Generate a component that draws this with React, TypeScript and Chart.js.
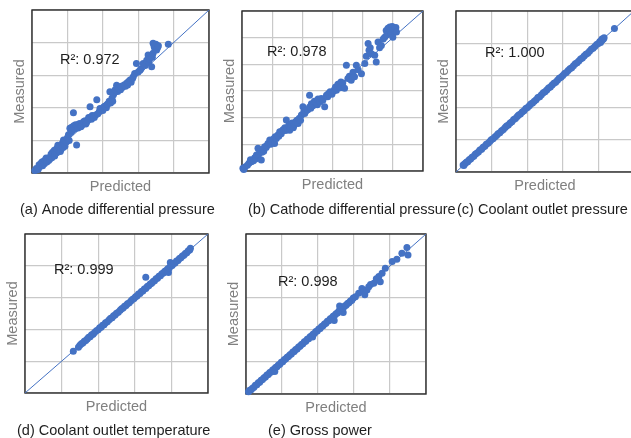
import React, { useEffect, useRef } from "react";
import { Chart, registerables } from "chart.js";

Chart.register(...registerables);

type Pt = [number, number];

// [predicted, measured] in grid units
const anodePoints: Pt[] = [
  [0.08, 0.08], [0.12, 0.14], [0.15, 0.1], [0.18, 0.12], [0.2, 0.25], [0.22, 0.2], [0.26, 0.3],
  [0.3, 0.22], [0.28, 0.34], [0.33, 0.36], [0.35, 0.28], [0.37, 0.4], [0.4, 0.46], [0.42, 0.34],
  [0.45, 0.45], [0.47, 0.38], [0.5, 0.42], [0.52, 0.5], [0.54, 0.58], [0.56, 0.47], [0.6, 0.55],
  [0.58, 0.64], [0.63, 0.7], [0.64, 0.52], [0.66, 0.6], [0.7, 0.62], [0.7, 0.75], [0.73, 0.85],
  [0.75, 0.68], [0.78, 0.8], [0.8, 0.66], [0.82, 0.72], [0.84, 0.84], [0.86, 0.92], [0.88, 0.78],
  [0.9, 0.9], [0.93, 0.82], [0.89, 1.01], [0.97, 0.95], [1.0, 1.08], [1.03, 1.17], [1.05, 1.0],
  [1.07, 1.37], [1.1, 1.25], [1.12, 1.4], [1.14, 1.3], [1.17, 1.85], [1.26, 0.86], [1.18, 1.45],
  [1.2, 1.35], [1.23, 1.48], [1.26, 1.42], [1.3, 1.38], [1.32, 1.5], [1.36, 1.52], [1.38, 1.42],
  [1.4, 1.45], [1.44, 1.5], [1.46, 1.58], [1.5, 1.6], [1.52, 1.5], [1.54, 1.55], [1.58, 1.62],
  [1.6, 1.7], [1.64, 1.68], [1.64, 2.03], [1.68, 1.65], [1.7, 1.76], [1.72, 1.72], [1.76, 1.7],
  [1.8, 1.78], [1.83, 2.25], [1.86, 1.82], [1.9, 1.88], [1.92, 1.98], [1.95, 1.95], [2.0, 1.92],
  [2.02, 2.02], [2.05, 2.05], [2.1, 2.0], [2.12, 2.1], [2.14, 2.12], [2.18, 2.2], [2.2, 2.49],
  [2.22, 2.15], [2.26, 2.3], [2.28, 2.2], [2.3, 2.4], [2.35, 2.55], [2.39, 2.69], [2.42, 2.5],
  [2.44, 2.58], [2.46, 2.6], [2.5, 2.55], [2.52, 2.66], [2.55, 2.62], [2.6, 2.7], [2.64, 2.66],
  [2.67, 2.75], [2.7, 2.7], [2.72, 2.8], [2.77, 2.85], [2.8, 2.78], [2.84, 2.9], [2.86, 2.95],
  [2.9, 3.05], [2.95, 3.36], [3.0, 3.1], [3.05, 3.15], [3.08, 3.2], [3.14, 3.36], [3.2, 3.3],
  [3.24, 3.46], [3.28, 3.62], [3.3, 3.4], [3.32, 3.5], [3.38, 3.26], [3.4, 3.55], [3.42, 3.67],
  [3.42, 3.98], [3.45, 3.88], [3.47, 3.82], [3.5, 3.95], [3.52, 3.77], [3.55, 3.85], [3.57, 3.9],
  [3.85, 3.95],
];

const cathodePoints: Pt[] = [
  [0.03, 0.1], [0.06, 0.06], [0.1, 0.15], [0.18, 0.22], [0.23, 0.29], [0.31, 0.35], [0.28, 0.42],
  [0.38, 0.38], [0.42, 0.5], [0.45, 0.45], [0.48, 0.6], [0.53, 0.85], [0.55, 0.62], [0.59, 0.72],
  [0.64, 0.41], [0.66, 0.7], [0.7, 0.82], [0.72, 0.74], [0.75, 0.91], [0.8, 0.88], [0.83, 0.96],
  [0.86, 1.03], [0.92, 1.16], [0.95, 1.0], [1.0, 1.12], [1.04, 1.2], [1.08, 1.03], [1.1, 1.28],
  [1.14, 1.22], [1.19, 1.35], [1.22, 1.3], [1.25, 1.47], [1.3, 1.4], [1.33, 1.5], [1.36, 1.55],
  [1.42, 1.62], [1.45, 1.52], [1.47, 1.91], [1.5, 1.6], [1.55, 1.72], [1.58, 1.53], [1.6, 1.62],
  [1.62, 1.68], [1.66, 1.8], [1.7, 1.62], [1.72, 1.7], [1.74, 1.75], [1.78, 1.85], [1.82, 1.9],
  [1.86, 1.78], [1.9, 1.98], [1.94, 1.9], [1.97, 2.1], [2.02, 2.41], [2.05, 2.22], [2.08, 2.16],
  [2.12, 2.25], [2.18, 2.3], [2.24, 2.84], [2.24, 2.4], [2.28, 2.35], [2.3, 2.52], [2.35, 2.45],
  [2.4, 2.62], [2.46, 2.55], [2.5, 2.48], [2.52, 2.7], [2.58, 2.6], [2.63, 2.72], [2.68, 2.65],
  [2.74, 2.41], [2.8, 2.84], [2.84, 2.78], [2.86, 2.9], [2.92, 2.97], [2.98, 2.88], [3.04, 3.0],
  [3.08, 3.08], [3.1, 3.15], [3.13, 3.03], [3.18, 3.25], [3.22, 3.2], [3.26, 3.12], [3.28, 3.34],
  [3.34, 3.3], [3.4, 3.1], [3.46, 3.97], [3.51, 3.47], [3.56, 3.55], [3.62, 3.4], [3.68, 3.7],
  [3.73, 3.53], [3.79, 3.97], [3.85, 3.8], [3.96, 3.65], [4.07, 4.03], [4.12, 4.3], [4.18, 4.78],
  [4.21, 4.53], [4.25, 4.62], [4.29, 4.4], [4.4, 4.34], [4.45, 4.09], [4.51, 4.84], [4.56, 4.62],
  [4.62, 4.71], [4.68, 4.95], [4.73, 5.02], [4.78, 5.27], [4.8, 5.1], [4.84, 5.35], [4.9, 5.4],
  [4.92, 5.28], [4.95, 5.15], [4.98, 5.42], [5.0, 5.02], [5.03, 5.3], [5.06, 5.34], [5.1, 5.38],
  [5.12, 5.21],
];

const coolantPressurePoints: Pt[] = [
  [0.2, 0.22], [0.22, 0.2], [0.24, 0.25], [0.27, 0.28], [0.3, 0.31], [0.33, 0.32], [0.37, 0.38],
  [0.41, 0.4], [0.45, 0.46], [0.5, 0.49], [0.54, 0.55], [0.58, 0.58], [0.63, 0.62], [0.67, 0.68],
  [0.72, 0.71], [0.76, 0.77], [0.81, 0.8], [0.85, 0.86], [0.9, 0.89], [0.95, 0.95], [0.99, 1.0],
  [1.04, 1.03], [1.09, 1.09], [1.14, 1.13], [1.18, 1.19], [1.23, 1.22], [1.28, 1.28], [1.33, 1.32],
  [1.38, 1.38], [1.42, 1.43], [1.47, 1.46], [1.52, 1.52], [1.57, 1.56], [1.62, 1.63], [1.67, 1.66],
  [1.72, 1.72], [1.76, 1.77], [1.81, 1.8], [1.86, 1.86], [1.91, 1.9], [1.96, 1.97], [2.01, 2.0],
  [2.06, 2.06], [2.1, 2.11], [2.15, 2.14], [2.2, 2.2], [2.25, 2.24], [2.3, 2.31], [2.35, 2.34],
  [2.4, 2.4], [2.45, 2.46], [2.5, 2.49], [2.55, 2.55], [2.6, 2.61], [2.65, 2.64], [2.7, 2.7],
  [2.75, 2.76], [2.8, 2.79], [2.85, 2.85], [2.9, 2.91], [2.95, 2.94], [3.0, 3.0], [3.05, 3.06],
  [3.1, 3.09], [3.15, 3.15], [3.2, 3.21], [3.25, 3.24], [3.3, 3.3], [3.35, 3.36], [3.4, 3.39],
  [3.45, 3.45], [3.5, 3.51], [3.55, 3.54], [3.6, 3.6], [3.65, 3.66], [3.7, 3.69], [3.75, 3.75],
  [3.8, 3.81], [3.85, 3.84], [3.9, 3.9], [3.95, 3.96], [4.0, 3.99], [4.04, 4.05], [4.06, 4.02],
  [4.08, 4.07], [4.1, 4.13], [4.11, 4.1], [4.14, 4.13], [4.16, 4.17], [4.45, 4.46],
];

const coolantTempPoints: Pt[] = [
  [1.32, 1.31], [1.46, 1.44], [1.5, 1.5], [1.54, 1.55], [1.58, 1.57], [1.62, 1.63], [1.66, 1.65],
  [1.7, 1.7], [1.74, 1.75], [1.78, 1.77], [1.82, 1.83], [1.86, 1.85], [1.9, 1.9], [1.95, 1.96],
  [2.0, 1.99], [2.04, 2.05], [2.08, 2.07], [2.12, 2.13], [2.16, 2.15], [2.2, 2.21], [2.25, 2.24],
  [2.3, 2.3], [2.34, 2.35], [2.38, 2.37], [2.42, 2.43], [2.46, 2.45], [2.5, 2.51], [2.55, 2.54],
  [2.6, 2.6], [2.64, 2.65], [2.68, 2.67], [2.72, 2.73], [2.76, 2.75], [2.8, 2.81], [2.85, 2.84],
  [2.9, 2.9], [2.94, 2.95], [2.98, 2.97], [3.02, 3.03], [3.06, 3.05], [3.1, 3.11], [3.14, 3.13],
  [3.18, 3.19], [3.22, 3.21], [3.26, 3.27], [3.3, 3.64], [3.3, 3.29], [3.34, 3.35], [3.38, 3.37],
  [3.42, 3.43], [3.46, 3.45], [3.5, 3.51], [3.54, 3.53], [3.58, 3.59], [3.62, 3.61], [3.66, 3.67],
  [3.7, 3.69], [3.74, 3.75], [3.78, 3.77], [3.82, 3.83], [3.86, 3.85], [3.9, 3.91], [3.92, 3.79],
  [3.94, 3.93], [3.97, 4.1], [3.98, 3.99], [4.02, 4.01], [4.06, 4.07], [4.1, 4.09], [4.14, 4.15],
  [4.18, 4.17], [4.22, 4.23], [4.26, 4.25], [4.3, 4.31], [4.34, 4.33], [4.38, 4.39], [4.42, 4.41],
  [4.46, 4.47], [4.5, 4.5], [4.52, 4.55],
];

const grossPowerPoints: Pt[] = [
  [0.07, 0.07], [0.1, 0.12], [0.14, 0.13], [0.18, 0.18], [0.22, 0.21], [0.26, 0.27], [0.3, 0.29],
  [0.34, 0.35], [0.38, 0.37], [0.42, 0.43], [0.46, 0.45], [0.5, 0.51], [0.54, 0.53], [0.58, 0.59],
  [0.62, 0.61], [0.66, 0.67], [0.7, 0.69], [0.74, 0.75], [0.78, 0.77], [0.8, 0.7], [0.82, 0.83],
  [0.86, 0.85], [0.9, 0.91], [0.94, 0.93], [0.98, 0.99], [1.02, 1.01], [1.06, 1.07], [1.1, 1.09],
  [1.14, 1.15], [1.18, 1.17], [1.22, 1.23], [1.26, 1.25], [1.3, 1.31], [1.34, 1.33], [1.38, 1.39],
  [1.42, 1.41], [1.46, 1.47], [1.5, 1.49], [1.54, 1.55], [1.58, 1.57], [1.62, 1.63], [1.66, 1.65],
  [1.7, 1.71], [1.74, 1.73], [1.78, 1.79], [1.82, 1.81], [1.85, 1.78], [1.86, 1.87], [1.9, 1.89],
  [1.94, 1.95], [1.98, 1.97], [2.02, 2.03], [2.06, 2.05], [2.1, 2.11], [2.14, 2.13], [2.18, 2.19],
  [2.22, 2.21], [2.26, 2.27], [2.3, 2.29], [2.34, 2.35], [2.38, 2.37], [2.42, 2.43], [2.45, 2.3],
  [2.46, 2.45], [2.5, 2.51], [2.54, 2.53], [2.58, 2.59], [2.6, 2.75], [2.62, 2.61], [2.66, 2.67],
  [2.7, 2.55], [2.7, 2.69], [2.74, 2.75], [2.78, 2.77], [2.82, 2.83], [2.86, 2.85], [2.9, 2.91],
  [2.94, 2.93], [2.98, 3.0], [3.04, 3.04], [3.13, 3.15], [3.22, 3.3], [3.28, 3.22], [3.3, 3.1],
  [3.36, 3.25], [3.41, 3.35], [3.46, 3.42], [3.55, 3.46], [3.62, 3.6], [3.69, 3.67], [3.73, 3.51],
  [3.78, 3.77], [3.87, 3.93], [4.06, 4.14], [4.19, 4.21], [4.33, 4.4], [4.5, 4.34], [4.47, 4.58],
];

const seriesPoints: Pt[][] = [anodePoints, cathodePoints, coolantPressurePoints, coolantTempPoints, grossPowerPoints];
const captions = [
  "(a) Anode differential pressure",
  "(b) Cathode differential pressure",
  "(c) Coolant outlet pressure",
  "(d) Coolant outlet temperature",
  "(e) Gross power",
];
const r2Labels = ["R²: 0.972", "R²: 0.978", "R²: 1.000", "R²: 0.999", "R²: 0.998"];
const axisMaxima = [5, 6, 5, 5, 5];
const xTitle = "Predicted";
const yTitle = "Measured";

// layout (page pixels)
const frames = [
  { l: 32, t: 10, r: 209, b: 173 },
  { l: 242, t: 11, r: 423, b: 171 },
  { l: 456, t: 11, r: 634, b: 172 },
  { l: 25, t: 234, r: 208, b: 393 },
  { l: 246, t: 234, r: 426, b: 394 },
];
const r2Pos = [
  { x: 60, y: 60 },
  { x: 267, y: 52 },
  { x: 485, y: 53 },
  { x: 54, y: 270 },
  { x: 278, y: 282 },
];
const captionPos = [
  { x: 20, y: 210 },
  { x: 248, y: 210 },
  { x: 457, y: 210 },
  { x: 17, y: 431 },
  { x: 268, y: 431 },
];

const CW = 660;
const CH = 438;
const FONT = '"Liberation Sans", Arial, Helvetica, sans-serif';
const FS = 14.5;
const BLUE = "rgb(68,114,196)";
const Y_AXIS_W = 21.2;
const X_AXIS_H = 22.2;

function Panel({ idx }: { idx: number }) {
  const ref = useRef<HTMLCanvasElement>(null);
  useEffect(() => {
    if (!ref.current) return;
    const f = frames[idx];
    const max = axisMaxima[idx];
    const pts = seriesPoints[idx];
    const decor = {
      id: "decor" + idx,
      beforeDatasetsDraw(chart: any) {
        const { ctx, chartArea } = chart;
        ctx.save();
        ctx.strokeStyle = "#2a2a2a";
        ctx.lineWidth = 1.4;
        ctx.strokeRect(chartArea.left, chartArea.top, chartArea.right - chartArea.left, chartArea.bottom - chartArea.top);
        ctx.restore();
      },
      afterDraw(chart: any) {
        const { ctx } = chart;
        ctx.save();
        ctx.font = `${FS}px ${FONT}`;
        ctx.textBaseline = "middle";
        ctx.textAlign = "left";
        ctx.fillStyle = "#1e1e1e";
        ctx.fillText(r2Labels[idx], r2Pos[idx].x, r2Pos[idx].y);
        ctx.fillText(captions[idx], captionPos[idx].x, captionPos[idx].y);
        ctx.restore();
      },
    };
    const chart = new Chart(ref.current, {
      type: "scatter",
      data: {
        datasets: [
          {
            type: "line",
            data: [
              { x: 0, y: 0 },
              { x: max, y: max },
            ],
            borderColor: BLUE,
            borderWidth: 1,
            pointRadius: 0,
            order: 2,
          } as any,
          {
            data: pts.map(([x, y]) => ({ x, y })),
            backgroundColor: BLUE,
            borderWidth: 0,
            pointRadius: 3.5,
            clip: false,
            order: 1,
          } as any,
        ],
      },
      options: {
        responsive: false,
        animation: false,
        devicePixelRatio: 1,
        layout: {
          padding: { left: f.l - Y_AXIS_W, top: f.t, right: CW - f.r, bottom: CH - f.b - X_AXIS_H },
        },
        plugins: { legend: { display: false }, tooltip: { enabled: false }, title: { display: false } },
        scales: {
          x: {
            type: "linear",
            min: 0,
            max,
            ticks: { display: false, stepSize: 1 },
            grid: { color: "#c9c9c9", lineWidth: 1.2, drawTicks: false, tickLength: 0 },
            border: { display: false },
            title: { display: true, text: xTitle, color: "#808080", font: { family: FONT, size: FS }, padding: 0 },
            afterFit: (s: any) => {
              s.height = X_AXIS_H;
            },
          },
          y: {
            type: "linear",
            min: 0,
            max,
            ticks: { display: false, stepSize: 1 },
            grid: { color: "#c9c9c9", lineWidth: 1.2, drawTicks: false, tickLength: 0 },
            border: { display: false },
            title: { display: true, text: yTitle, color: "#808080", font: { family: FONT, size: FS }, padding: 0 },
            afterFit: (s: any) => {
              s.width = Y_AXIS_W;
            },
          },
        },
      } as any,
      plugins: [decor],
    });
    return () => chart.destroy();
  }, [idx]);
  return (
    <canvas
      ref={ref}
      width={CW}
      height={CH}
      style={{ position: "absolute", left: 0, top: 0, width: CW, height: CH }}
    />
  );
}

export default function App() {
  return (
    <div
      style={{
        position: "absolute",
        left: 0,
        top: 0,
        width: 631,
        height: 438,
        overflow: "hidden",
        background: "#fff",
      }}
    >
      {seriesPoints.map((_, i) => (
        <Panel key={i} idx={i} />
      ))}
    </div>
  );
}
